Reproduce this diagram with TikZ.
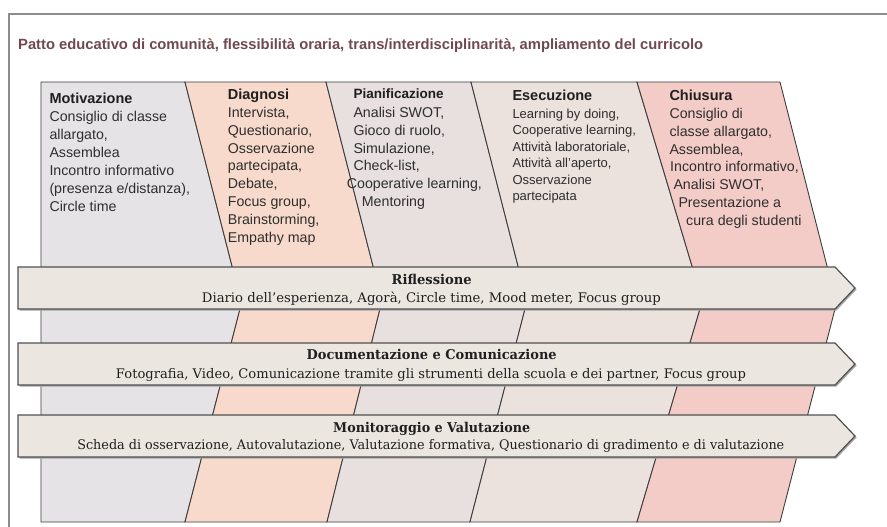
\documentclass[tikz,border=0pt]{standalone}
\usepackage{fontspec}
\usepackage{graphicx}
\setmainfont{Liberation Sans}
\newfontfamily\slab{DejaVu Serif}
\definecolor{colA}{HTML}{E6E3E6}
\definecolor{colB}{HTML}{F8DACC}
\definecolor{colC}{HTML}{E8DFDF}
\definecolor{colD}{HTML}{EBE1DD}
\definecolor{colE}{HTML}{F4CCC7}
\definecolor{arrowfill}{HTML}{EBE6E0}
\definecolor{arrowline}{HTML}{505050}
\definecolor{colline}{HTML}{3C3C3C}
\definecolor{framecol}{HTML}{8C8C8C}
\definecolor{titlecol}{HTML}{704850}
\definecolor{txtcol}{HTML}{2E2E2E}
\newcommand\fitw[2]{\resizebox{#1}{\height}{#2}}
\begin{document}
\begin{tikzpicture}[x=1pt,y=-1pt,
  colborder/.style={draw=colline,line width=0.9pt,line join=miter},
  arrowbox/.style={fill=arrowfill,draw=arrowline,line width=1.2pt,line join=miter},
  arrowshadow/.style={fill=black!35,draw=none},
  hdr/.style={font={\bfseries\fontsize{14.5}{17.9}\selectfont},anchor=base west,inner sep=0pt,text=black!88},
  bodytxt/.style={font={\fontsize{14.2}{17.9}\selectfont},anchor=north west,inner sep=0pt,align=left,text=txtcol},
  slabhdr/.style={font={\slab\bfseries\fontsize{13.5}{15}\selectfont},anchor=base,inner sep=0pt,text=black!88},
  slabbody/.style={font={\slab\fontsize{13.2}{15}\selectfont},anchor=base,inner sep=0pt,text=black!88}]
\useasboundingbox (0,0) rectangle (887,527);
% frame
\draw[framecol,line width=1.5pt] (9,540) -- (9,14) -- (900,14);
% title
\node[anchor=base west,inner sep=0pt,text=titlecol,font={\bfseries\fontsize{14.8}{16}\selectfont}] (title) at (18,49.3)
  {\fitw{685pt}{Patto educativo di comunità, flessibilità oraria, trans/interdisciplinarità, ampliamento del curricolo}};
% columns: boundaries (top@82, @266, @309, bottom@522)
\filldraw[colborder,fill=colA] (41,82) -- (185,82) -- (232,266) -- (240,309) -- (185,522) -- (41,522) -- cycle;
\filldraw[colborder,fill=colB] (185,82) -- (326,82) -- (373,266) -- (380,309) -- (327,522) -- (185,522) -- (240,309) -- (232,266) -- cycle;
\filldraw[colborder,fill=colC] (326,82) -- (471,82) -- (518,266) -- (525,309) -- (470,522) -- (327,522) -- (380,309) -- (373,266) -- cycle;
\filldraw[colborder,fill=colD] (471,82) -- (637,82) -- (692,266) -- (700,309) -- (637,522) -- (470,522) -- (525,309) -- (518,266) -- cycle;
\filldraw[colborder,fill=colE] (637,82) -- (780,82) -- (827,266) -- (835,309) -- (780,522) -- (637,522) -- (700,309) -- (692,266) -- cycle;
% column texts
\node[hdr] (hmot) at (49.3,103.5) {Motivazione};
\node[bodytxt,font={\fontsize{14.2}{18}\selectfont}] (bmot) at (49.3,108.8) {\strut Consiglio di classe\\allargato,\\Assemblea\\Incontro informativo\\(presenza e/distanza),\\Circle time};
\node[hdr] (hdia) at (227.7,99.2) {Diagnosi};
\node[bodytxt] (bdia) at (227.7,104.5) {\strut Intervista,\\Questionario,\\Osservazione\\partecipata,\\Debate,\\Focus group,\\Brainstorming,\\Empathy map};
\node[hdr,font={\bfseries\fontsize{13.5}{17.9}\selectfont}] (hpia) at (353.3,99) {Pianificazione};
\node[bodytxt] (bpia) at (353.3,104.5) {\strut Analisi SWOT,\\Gioco di ruolo,\\Simulazione,\\Check-list,\\\hspace*{-6.6pt}Cooperative learning,\\\hspace*{8.4pt}Mentoring};
\node[hdr] (hese) at (512.3,100.9) {Esecuzione};
\node[bodytxt,font={\fontsize{13}{16.5}\selectfont}] (bese) at (512.3,106.5) {\strut Learning by doing,\\Cooperative learning,\\Attività laboratoriale,\\Attività all’aperto,\\Osservazione\\partecipata};
\node[hdr] (hchi) at (669.3,100.9) {Chiusura};
\node[bodytxt] (bchi) at (669.3,105.5) {\strut Consiglio di\\classe allargato,\\Assemblea,\\\hspace*{0.7pt}Incontro informativo,\\\hspace*{4pt}Analisi SWOT,\\\hspace*{9pt}Presentazione a\\\hspace*{16.7pt}cura degli studenti};
% arrows
\foreach \t/\b in {267/309,343/385,415/457}{
  \fill[arrowshadow] (19.5,\t+1.5) -- (836.5,\t+1.5) -- (856.5,{(\t+\b)/2+1.5}) -- (836.5,\b+1.5) -- (19.5,\b+1.5) -- cycle;
  \filldraw[arrowbox] (18,\t) -- (835,\t) -- (855,{(\t+\b)/2}) -- (835,\b) -- (18,\b) -- cycle;
}
\node[slabhdr] (hrif) at (431.7,284.8) {\fitw{80pt}{Riflessione}};
\node[slabbody] (brif) at (431.4,302.5) {\fitw{459pt}{Diario dell’esperienza, Agorà, Circle time, Mood meter, Focus group}};
\node[slabhdr] (hdoc) at (431.7,359.8) {\fitw{250pt}{Documentazione e Comunicazione}};
\node[slabbody] (bdoc) at (431,378.1) {\fitw{630pt}{Fotografia, Video, Comunicazione tramite gli strumenti della scuola e dei partner, Focus group}};
\node[slabhdr] (hmon) at (431.7,432.1) {\fitw{197pt}{Monitoraggio e Valutazione}};
\node[slabbody] (bmon) at (430.8,449.8) {\fitw{707pt}{Scheda di osservazione, Autovalutazione, Valutazione formativa, Questionario di gradimento e di valutazione}};
\end{tikzpicture}
\end{document}
